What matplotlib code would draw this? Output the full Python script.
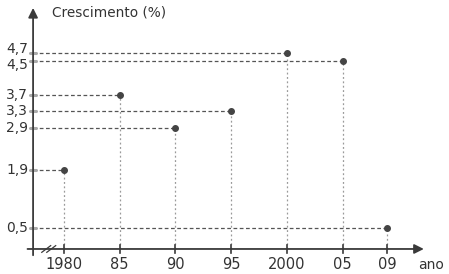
import matplotlib.pyplot as plt

# data
anos = [1980, 1985, 1990, 1995, 2000, 2005, 2009]
crescimento = [1.9, 3.7, 2.9, 3.3, 4.7, 4.5, 0.5]
rotulos_x = ['1980', '85', '90', '95', '2000', '05', '09']
rotulos_y = ['1,9', '3,7', '2,9', '3,3', '4,7', '4,5', '0,5']

x0 = 1977.22  # posicao do eixo vertical
cor_eixo = '#3a3a3a'

fig = plt.figure(figsize=(4.49, 2.74), dpi=100)
ax = fig.add_axes([0, 0, 1, 1])
ax.set_xlim(1974.25, 2014.56)
ax.set_ylim(-0.60, 5.97)
ax.axis('off')

# eixos com setas
ax.annotate('', xy=(2012.3, 0), xytext=(x0 - 0.5, 0),
            arrowprops=dict(arrowstyle='-|>', color=cor_eixo, lw=1.3,
                            mutation_scale=14, shrinkA=0, shrinkB=0))
ax.annotate('', xy=(x0, 5.78), xytext=(x0, -0.15),
            arrowprops=dict(arrowstyle='-|>', color=cor_eixo, lw=1.3,
                            mutation_scale=14, shrinkA=0, shrinkB=0))

# quebra do eixo "//"
for dx in (0, 0.45):
    ax.plot([1978.0 + dx, 1978.8 + dx], [-0.08, 0.08], color=cor_eixo, lw=0.9)

# linhas tracejadas e pontos
for a, c in zip(anos, crescimento):
    ax.plot([x0, a], [c, c], ls=(0, (3, 2)), color='#555555', lw=0.9)
    ax.plot([a, a], [0, c], ls=(0, (1.5, 2)), color='#9a9a9a', lw=0.9)
    ax.plot([x0 - 0.3, x0 + 0.3], [c, c], color='#aaaaaa', lw=2.2,
            solid_capstyle='round')
ax.scatter(anos, crescimento, s=16, color='#444444', zorder=5)

# marcas e rotulos do eixo x
for a, r in zip(anos, rotulos_x):
    ax.plot([a, a], [-0.1, 0.1], color=cor_eixo, lw=1.2)
    ax.text(a, -0.2, r, ha='center', va='top', fontsize=10.5, color='#333333')

# rotulos do eixo y
for c, r in zip(crescimento, rotulos_y):
    dy = 0
    if r == '4,7':
        dy = 0.09
    if r == '4,5':
        dy = -0.09
    ax.text(x0 - 0.45, c + dy, r, ha='right', va='center', fontsize=10, color='#333333')

ax.text(1978.92, 5.68, 'Crescimento (%)', ha='left', va='center', fontsize=9.8, color='#333333')
ax.text(2011.8, -0.38, 'ano', ha='left', va='center', fontsize=10, color='#333333')

plt.savefig('out.png', dpi=100)
